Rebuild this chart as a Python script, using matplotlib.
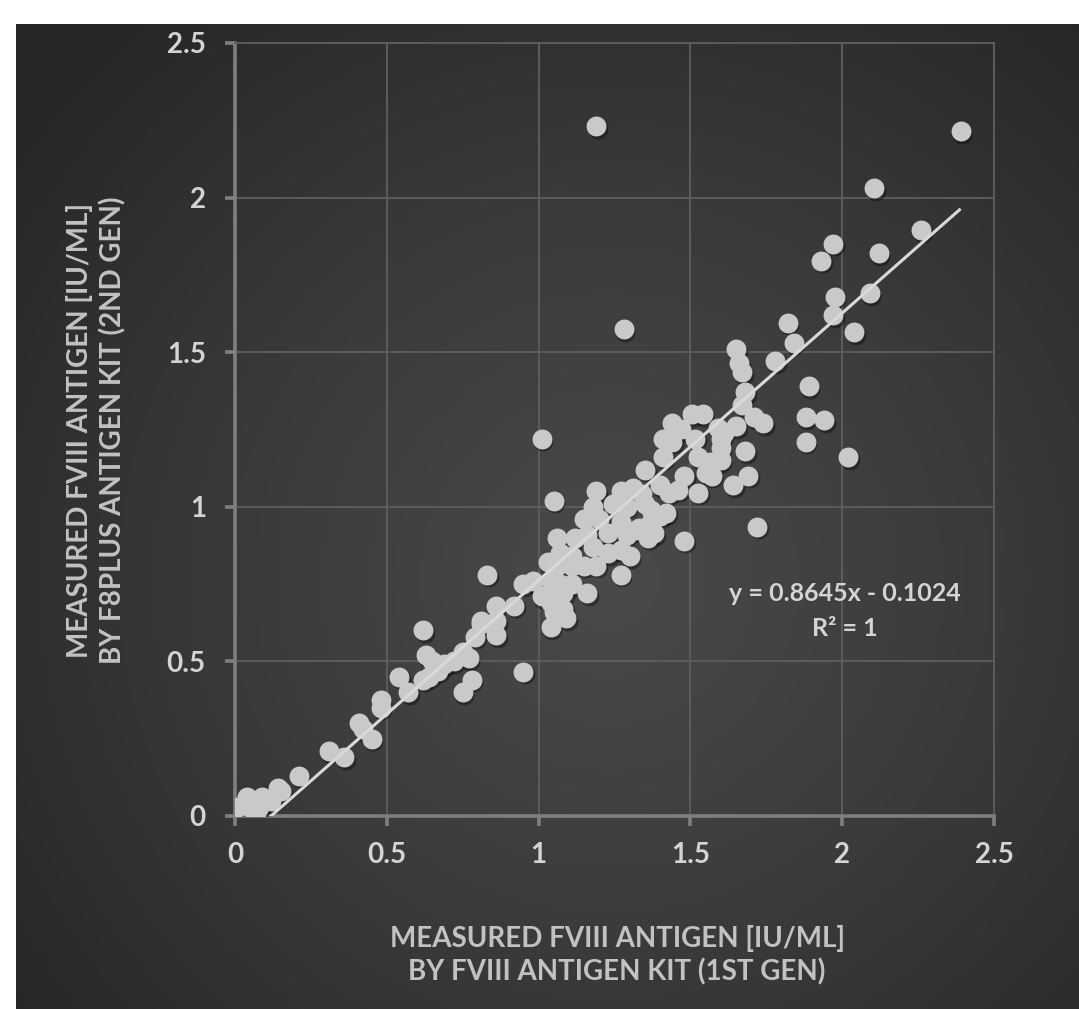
import numpy as np
import matplotlib
matplotlib.use("Agg")
import matplotlib.pyplot as plt
from matplotlib.colors import LinearSegmentedColormap
from matplotlib.transforms import offset_copy

# FVIII antigen measured with the 1st gen kit (x) and the F8plus 2nd gen kit (y), IU/mL
fviii_1st_gen = [
    0.01, 0.04, 0.06, 0.07, 0.08, 0.09, 0.12, 0.14, 0.15, 0.21,
    0.31, 0.36, 0.41, 0.42, 0.45, 0.48, 0.48, 0.54, 0.57, 0.62,
    0.64, 0.62, 0.67, 0.63, 0.65, 0.69, 0.72, 0.75, 0.77, 0.78,
    0.75, 0.79, 0.81, 0.86, 0.81, 0.86, 0.83, 0.86, 0.92, 0.95,
    0.98, 1.04, 1.07, 1.11, 1.03, 1.06, 1.11, 1.01, 1.05, 1.08,
    1.04, 1.08, 1.05, 1.09, 1.04, 1.16, 1.27, 1.19, 1.07, 1.11,
    1.06, 1.18, 1.23, 1.27, 1.30, 1.16, 1.23, 1.29, 1.32, 1.15,
    1.20, 1.27, 1.18, 1.245, 1.29, 1.19, 1.27, 1.31, 1.05, 1.12, 1.15,
    1.35, 1.41, 1.41, 1.44, 1.44, 1.47, 1.505, 1.54, 1.515, 1.525,
    1.565, 1.60, 1.55, 1.57, 1.48, 1.40, 1.43, 1.46, 1.525, 1.35,
    1.37, 1.40, 1.42, 1.37, 1.33, 1.38, 1.36, 1.34, 1.59, 1.60,
    1.60, 1.48,
    1.68, 1.67, 1.65, 1.68, 1.69, 1.64, 1.72, 1.65, 1.66, 1.67,
    1.71, 1.74, 1.82, 1.97, 2.04, 1.84, 1.78, 1.89, 1.88, 1.94,
    1.88, 2.02, 1.61,
    2.39, 2.105, 2.26, 1.97, 1.93, 2.12, 1.975, 2.09,
    1.19, 1.28, 1.01, 0.95,
]
f8plus_2nd_gen = [
    0.03, 0.06, 0.02, 0.01, 0.03, 0.06, 0.05, 0.09, 0.08, 0.13,
    0.21, 0.19, 0.30, 0.28, 0.25, 0.375, 0.35, 0.45, 0.40, 0.44,
    0.45, 0.60, 0.47, 0.52, 0.50, 0.49, 0.50, 0.53, 0.51, 0.44,
    0.40, 0.58, 0.62, 0.585, 0.63, 0.63, 0.78, 0.68, 0.68, 0.75,
    0.76, 0.76, 0.75, 0.75, 0.82, 0.81, 0.81, 0.71, 0.71, 0.72,
    0.69, 0.67, 0.66, 0.64, 0.61, 0.72, 0.78, 0.81, 0.85, 0.84,
    0.90, 0.87, 0.85, 0.86, 0.84, 0.91, 0.915, 0.91, 0.925, 0.96,
    0.96, 0.95, 1.00, 1.01, 1.00, 1.05, 1.05, 1.06, 1.02, 0.90, 0.81,
    1.12, 1.16, 1.22, 1.21, 1.27, 1.25, 1.30, 1.30, 1.22, 1.16,
    1.145, 1.15, 1.11, 1.10, 1.10, 1.07, 1.045, 1.055, 1.045, 1.01,
    0.99, 0.97, 0.98, 0.95, 0.93, 0.915, 0.90, 1.04, 1.255, 1.22,
    1.19, 0.89,
    1.37, 1.33, 1.26, 1.18, 1.10, 1.07, 0.935, 1.51, 1.465, 1.435,
    1.29, 1.27, 1.595, 1.62, 1.565, 1.53, 1.47, 1.39, 1.29, 1.28,
    1.21, 1.16, 1.24,
    2.215, 2.03, 1.895, 1.85, 1.795, 1.82, 1.68, 1.69,
    2.23, 1.575, 1.22, 0.466,
]

# linear trendline reported on the chart
slope = 0.8645
intercept = -0.1024
r_squared = 1

ticks = [0, 0.5, 1, 1.5, 2, 2.5]
tick_labels = ["0", "0.5", "1", "1.5", "2", "2.5"]

FONT = "Lato"
TEXT = "#d4d4d4"
LABEL = "#c2c2c2"
GRID = "#5c5c5c"
SPINE = "#7f7f7f"
DOT = "#c9c9c9"

W, H = 1079, 1009
fig = plt.figure(figsize=(W / 100, H / 100), dpi=100, facecolor="white")

# dark chart area with a soft radial glow
bg = fig.add_axes([16 / W, 0, 1 - 16 / W, 1 - 24 / H], zorder=-10)
gx, gy = np.meshgrid(np.linspace(16, W, 400), np.linspace(24, H, 400))
dist = np.hypot(gx - 610, gy - 580) / 760
cmap = LinearSegmentedColormap.from_list("glow", ["#4a4a4a", "#3a3a3a", "#262626"])
bg.imshow(np.clip(dist, 0, 1), cmap=cmap, vmin=0, vmax=1, aspect="auto",
          extent=[0, 1, 0, 1], origin="upper", interpolation="bilinear")
bg.axis("off")

ax = fig.add_axes([235 / W, 1 - 816 / H, (994 - 235) / W, (816 - 43) / H])
ax.patch.set_alpha(0)

# soft drop shadow under each dot, then the dots
shadow = offset_copy(ax.transData, fig=fig, x=1.2, y=-1.8, units="points")
ax.scatter(fviii_1st_gen, f8plus_2nd_gen, s=205, color="black", alpha=0.35,
           linewidths=0, transform=shadow, zorder=3)
ax.scatter(fviii_1st_gen, f8plus_2nd_gen, s=205, color=DOT, linewidths=0, zorder=4)

xs = np.array([min(fviii_1st_gen), max(fviii_1st_gen)])
ax.plot(xs, slope * xs + intercept, color="#d9d9d9", lw=2.2, zorder=5,
        solid_capstyle="butt")

ax.set_xlim(0, 2.5)
ax.set_ylim(0, 2.5)
ax.set_xticks(ticks)
ax.set_xticklabels(tick_labels)
ax.set_yticks(ticks)
ax.set_yticklabels(tick_labels)
ax.grid(True, color=GRID, lw=1.4, zorder=0)
ax.set_axisbelow(True)

for side in ["top", "right"]:
    ax.spines[side].set_color(GRID)
    ax.spines[side].set_linewidth(1.4)
for side in ["left", "bottom"]:
    ax.spines[side].set_color(SPINE)
    ax.spines[side].set_linewidth(2.6)

ax.tick_params(axis="x", length=7, width=2.6, color=SPINE, pad=12,
               labelsize=20, labelcolor=TEXT)
ax.tick_params(axis="y", length=7, width=2.6, color=SPINE, pad=14,
               labelsize=20, labelcolor=TEXT)
for lbl in ax.get_xticklabels() + ax.get_yticklabels():
    lbl.set_fontfamily(FONT)
    lbl.set_fontweight("bold")

eq_text = "y = %.4fx - %.4f\nR\u00b2 = %d" % (slope, abs(intercept), r_squared)
ax.text(2.01, 0.663, eq_text, ha="center", va="center", fontsize=18,
        color=TEXT, fontfamily=FONT, fontweight="bold", linespacing=1.6, zorder=6)

fig.text(617 / W, 1 - 955 / H,
         "MEASURED FVIII ANTIGEN [IU/ML]\nBY FVIII ANTIGEN KIT (1ST GEN)",
         ha="center", va="center", fontsize=20, color=LABEL, fontfamily=FONT,
         fontweight="bold", linespacing=1.3)
fig.text(96 / W, 1 - 430 / H,
         "MEASURED FVIII ANTIGEN [IU/ML]\nBY F8PLUS ANTIGEN KIT (2ND GEN)",
         ha="center", va="center", rotation=90, fontsize=20, color=LABEL,
         fontfamily=FONT, fontweight="bold", linespacing=1.3)

fig.savefig("out.png", dpi=100, facecolor="white")
